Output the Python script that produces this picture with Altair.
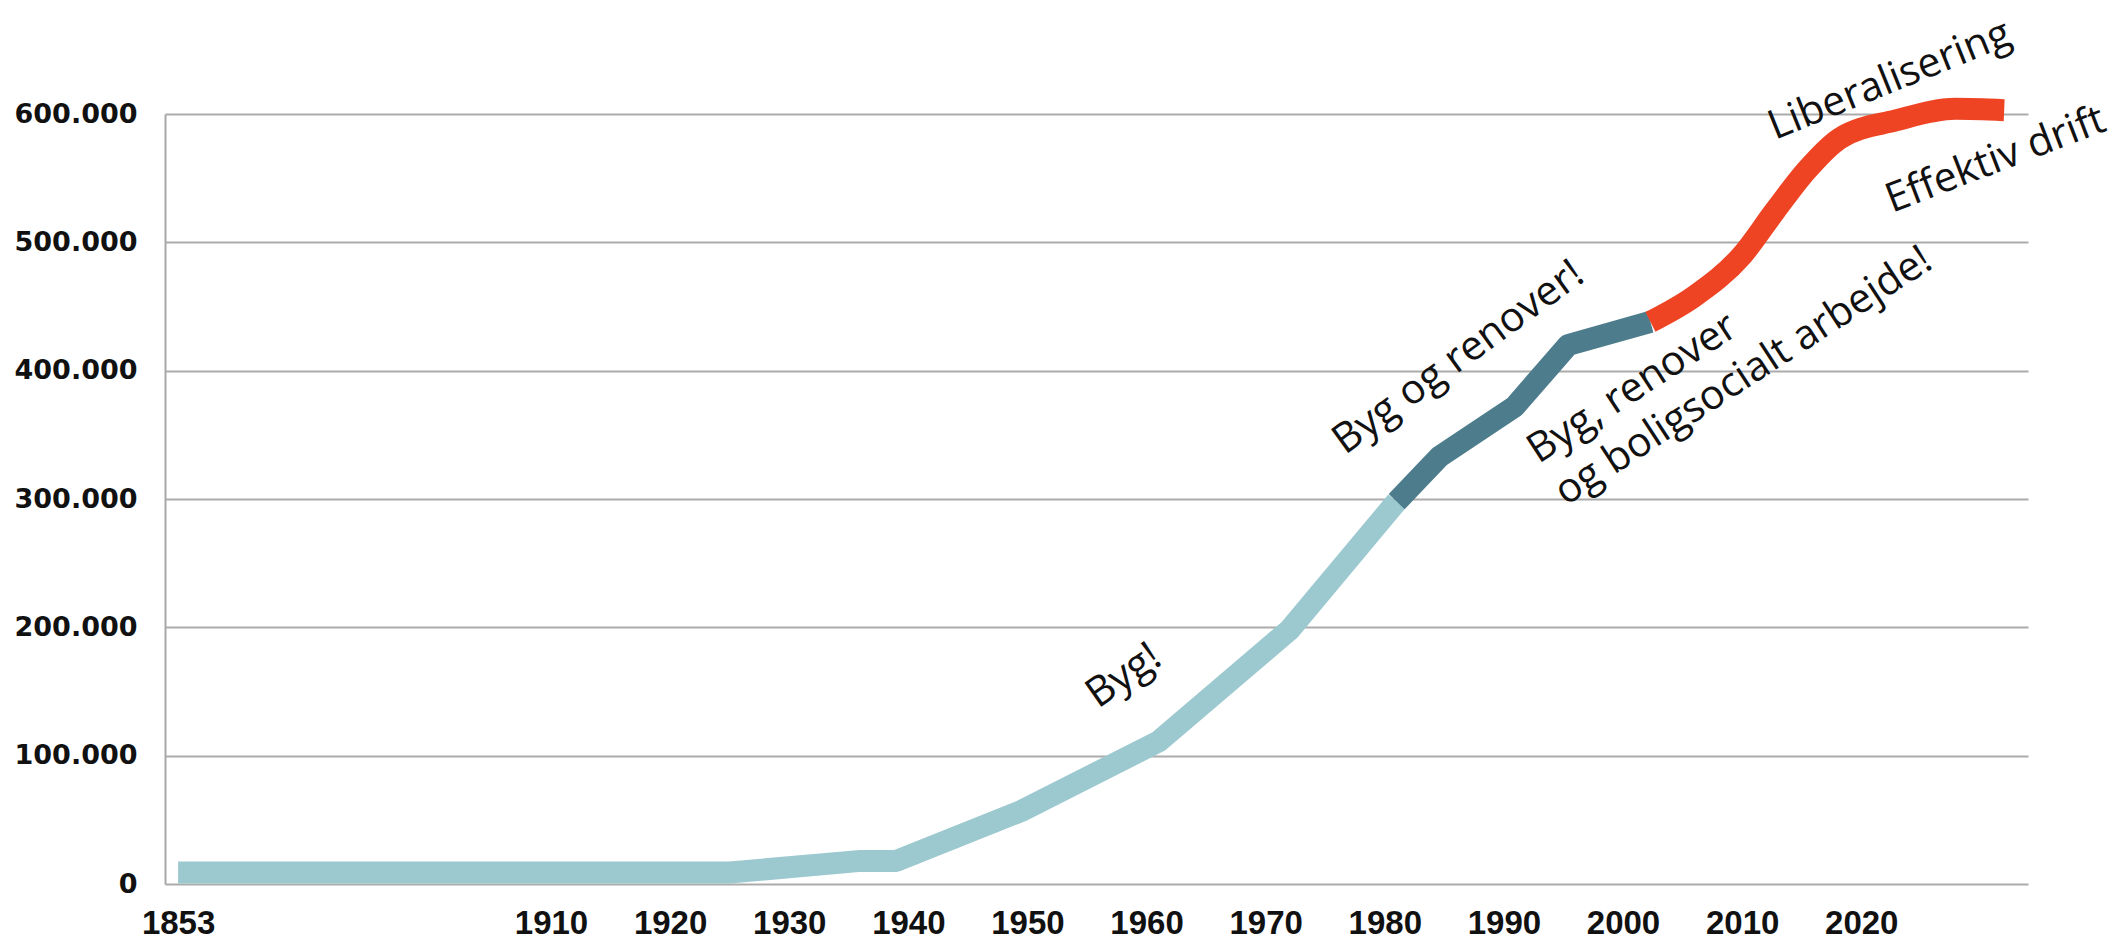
import altair as alt
import pandas as pd

# ---- values ----
light_years = [1853, 1925, 1936, 1939, 1949.5, 1961, 1972, 1981]
light_values = [9000, 9000, 18000, 18000, 57000, 111000, 198000, 298000]

dark_years = [1981, 1984.6, 1990.9, 1995.4, 2002.3]
dark_values = [298000, 333000, 372000, 420000, 438000]

red_years = [2002.3, 2006, 2010, 2012.8, 2015.4, 2018.2, 2022.9, 2027.9, 2032]
red_values = [438000, 458000, 490000, 525000, 556000, 581000, 595000, 604000, 603000]

x_ticks = [1853, 1910, 1920, 1930, 1940, 1950, 1960, 1970, 1980, 1990, 2000, 2010, 2020]
y_ticks = [0, 100000, 200000, 300000, 400000, 500000, 600000]

ann_texts = ["Byg!", "Byg og renover!", "Liberalisering", "Effektiv drift"]
ann_years = [1958.1, 1986.2, 2022.4, 2031.3]
ann_values = [162000, 410000, 626000, 564000]
ann_angles = [325, 324, 338, 339]

multi_text = "Byg, renover\nog boligsocialt arbejde!"
multi_year = [1992.9]
multi_value = [327000]
multi_angle = [327]

segments = ["light", "dark", "red"]
seg_colors = ["#9cc9cf", "#4d7d8c", "#ee4424"]

rows = []
for seg, ys, vs in zip(segments, [light_years, dark_years, red_years],
                       [light_values, dark_values, red_values]):
    for i, (yr, v) in enumerate(zip(ys, vs)):
        rows.append({"segment": seg, "year": yr, "value": v, "order": i})
df = pd.DataFrame(rows)

ann_df = pd.DataFrame({"text": ann_texts, "year": ann_years,
                       "value": ann_values, "angle": ann_angles})
multi_df = pd.DataFrame({"text": [multi_text], "year": multi_year,
                         "value": multi_value, "angle": multi_angle})

W, H = 1863, 770
x_scale = alt.Scale(domain=[1851, 1910, 2034], range=[0, 386, W], nice=False, zero=False)
y_scale = alt.Scale(domain=[0, 600000], nice=False, zero=True)

x_axis = alt.Axis(values=x_ticks, format="d", title=None, grid=False, ticks=False,
                  domain=False, labelFont="Liberation Sans Narrow, Liberation Sans",
                  labelFontWeight="bold",
                  labelFontSize=33, labelColor="#111111", labelPadding=23,
                  labelOverlap=False, labelFlush=False)
y_axis = alt.Axis(values=y_ticks, title=None, ticks=False,
                  labelExpr="replace(format(datum.value, ','), ',', '.')",
                  labelFont="DejaVu Sans", labelFontWeight="bold", labelFontSize=27,
                  labelColor="#111111", labelPadding=28,
                  domain=True, domainColor="#a8a8a8", domainWidth=2,
                  grid=True, gridColor="#ababab", gridWidth=2)

base = alt.Chart(df)
color = alt.Color("segment:N", scale=alt.Scale(domain=segments, range=seg_colors), legend=None)

def seg_line(seg, interp):
    return base.transform_filter(alt.datum.segment == seg).mark_line(
        strokeWidth=22, strokeCap="butt", strokeJoin="round", interpolate=interp, clip=False
    ).encode(
        x=alt.X("year:Q", scale=x_scale, axis=x_axis),
        y=alt.Y("value:Q", scale=y_scale, axis=y_axis),
        color=color,
        order="order:Q",
    )

lines = [seg_line("light", "linear"), seg_line("dark", "linear"), seg_line("red", "monotone")]

ann = alt.Chart(ann_df).mark_text(
    font="Open Sans", fontSize=41, color="#111111", align="center", baseline="middle"
).encode(
    x=alt.X("year:Q", scale=x_scale),
    y=alt.Y("value:Q", scale=y_scale),
    text="text:N",
    angle=alt.Angle("angle:Q", scale=None),
)

multi = alt.Chart(multi_df).mark_text(
    font="Open Sans", fontSize=41, color="#111111", align="left",
    baseline="alphabetic", lineBreak="\n", lineHeight=50
).encode(
    x=alt.X("year:Q", scale=x_scale),
    y=alt.Y("value:Q", scale=y_scale),
    text="text:N",
    angle=alt.Angle("angle:Q", scale=None),
)

chart = alt.layer(*lines, ann, multi).properties(
    width=W, height=H,
    autosize=alt.AutoSizeParams(type="none"),
    padding={"left": 157, "top": 106, "right": 84, "bottom": 59},
    background="white",
).configure_view(stroke=None)

chart.save("out.html", embed_options={"renderer": "svg", "actions": False})
